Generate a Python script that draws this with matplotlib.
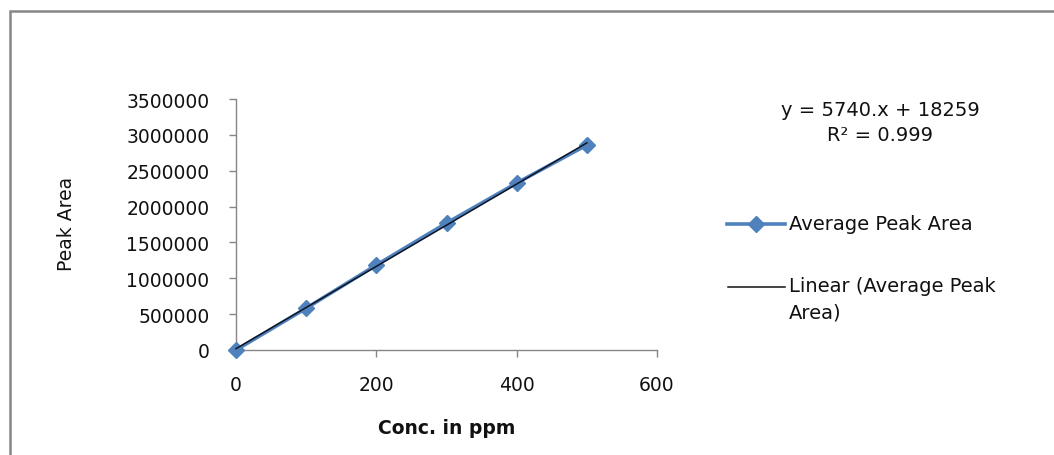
import matplotlib
matplotlib.use("Agg")
import matplotlib.pyplot as plt
import numpy as np
from matplotlib.patches import Rectangle
from matplotlib.lines import Line2D

conc = [0, 100, 200, 300, 400, 500]
peak_area = [0, 582000, 1185000, 1770000, 2328000, 2858000]
slope = 5740.0
intercept = 18259.0
eq_text = "y = 5740.x + 18259\nR² = 0.999"
x_ticks = [0, 200, 400, 600]
y_ticks = [0, 500000, 1000000, 1500000, 2000000, 2500000, 3000000, 3500000]
series_label = "Average Peak Area"
trend_label = "Linear (Average Peak\nArea)"

W, H = 1054, 456
fig = plt.figure(figsize=(W / 100, H / 100), dpi=100)
ax = fig.add_axes([236 / W, 1 - 351 / H, (657 - 236) / W, (351 - 100) / H])

blue = "#4F81BD"
grey = "#868686"
txt = "#111111"

ax.plot(conc, peak_area, color=blue, lw=2.6, marker="D", markersize=8,
        markeredgecolor=blue, zorder=3, clip_on=False)
xs = np.array([conc[0], conc[-1]])
ax.plot(xs, slope * xs + intercept, color="#0d1424", lw=1.1, zorder=4, clip_on=False)

ax.set_xlim(0, 600)
ax.set_ylim(0, 3500000)
ax.set_xticks(x_ticks)
ax.set_yticks(y_ticks)
ax.set_xticklabels([str(v) for v in x_ticks])
ax.set_yticklabels([str(v) for v in y_ticks])
for s in ["top", "right"]:
    ax.spines[s].set_visible(False)
for s in ["left", "bottom"]:
    ax.spines[s].set_color(grey)
    ax.spines[s].set_linewidth(1.0)
ax.tick_params(axis="both", direction="out", length=5, width=1.0, color=grey,
               labelsize=13.5, labelcolor=txt)
ax.tick_params(axis="x", pad=13)
ax.tick_params(axis="y", pad=14)

ax.set_xlabel("Conc. in ppm", fontsize=13.5, fontweight="bold", labelpad=17, color=txt)
fig.text(67 / W, 1 - 224 / H, "Peak Area", rotation=90, ha="center", va="center",
         fontsize=13.5, family=["Liberation Sans Narrow", "DejaVu Sans"], color=txt)

fig.text(880 / W, 1 - 123 / H, eq_text, ha="center", va="center", fontsize=14,
         linespacing=1.35, color=txt)

# legend (manual placement to match layout)
y1 = 1 - 225 / H
fig.add_artist(Line2D([727 / W, 756 / W, 785 / W], [y1, y1, y1], transform=fig.transFigure,
                      color=blue, lw=2.6, marker="D", markersize=8, markevery=[1],
                      markeredgecolor=blue))
fig.text(789 / W, y1, series_label, ha="left", va="center", fontsize=14, color=txt)
y2 = 1 - 288 / H
fig.add_artist(Line2D([728 / W, 785 / W], [y2, y2], transform=fig.transFigure,
                      color=txt, lw=1.1))
fig.text(789 / W, 1 - 277 / H, trend_label, ha="left", va="top", fontsize=14,
         color=txt, linespacing=1.5)

fig.patches.append(Rectangle((10 / W, -0.2), 1.5, 1.2 - 12 / H,
                             transform=fig.transFigure, fill=False,
                             edgecolor=grey, lw=1.8, clip_on=False))

fig.savefig("out.png", dpi=100)
